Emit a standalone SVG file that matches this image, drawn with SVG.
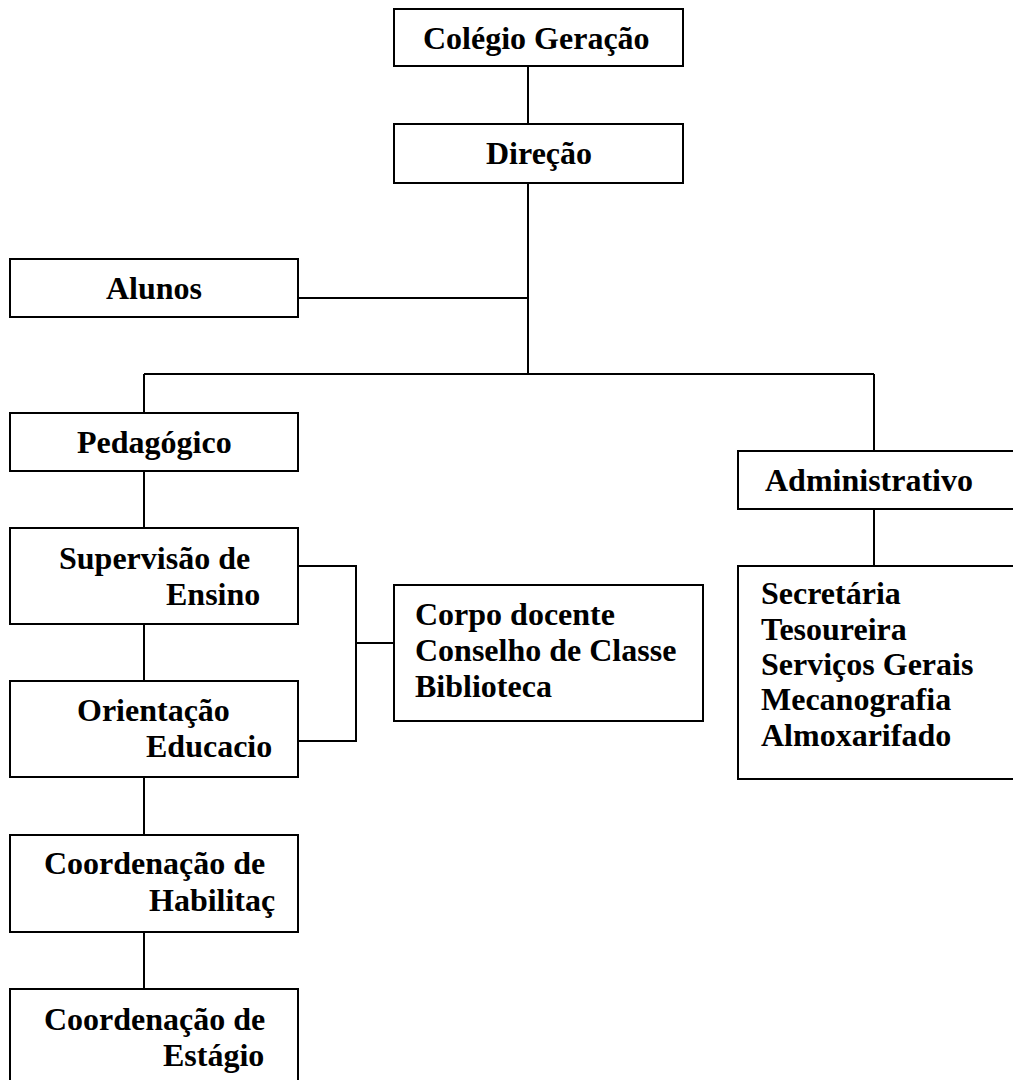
<svg xmlns="http://www.w3.org/2000/svg" width="1013" height="1080" viewBox="0 0 1013 1080">
<style>
.box{fill:#fff;stroke:#000;stroke-width:2}
.ln{fill:none;stroke:#000;stroke-width:2}
text{font-family:"Liberation Serif","Times New Roman",serif;font-weight:bold;font-size:32px;fill:#000}
</style>
<rect width="1013" height="1080" fill="#fff"/>
<g id="connectors">
<line class="ln" x1="528" y1="66" x2="528" y2="124"/>
<line class="ln" x1="528" y1="183" x2="528" y2="374"/>
<line class="ln" x1="298" y1="298" x2="528" y2="298"/>
<line class="ln" x1="144" y1="374" x2="874" y2="374"/>
<line class="ln" x1="144" y1="374" x2="144" y2="413"/>
<line class="ln" x1="874" y1="374" x2="874" y2="451"/>
<line class="ln" x1="874" y1="509" x2="874" y2="566"/>
<line class="ln" x1="144" y1="471" x2="144" y2="528"/>
<line class="ln" x1="144" y1="624" x2="144" y2="681"/>
<line class="ln" x1="144" y1="777" x2="144" y2="835"/>
<line class="ln" x1="144" y1="932" x2="144" y2="989"/>
<polyline class="ln" points="298,566 356,566 356,741 298,741"/>
<line class="ln" x1="356" y1="643" x2="394" y2="643"/>
</g>
<g id="colegio"><rect class="box" x="394" y="9" width="289" height="57"/><text x="423" y="49">Colégio Geração</text></g>
<g id="direcao"><rect class="box" x="394" y="124" width="289" height="59"/><text x="486" y="164">Direção</text></g>
<g id="alunos"><rect class="box" x="10" y="259" width="288" height="58"/><text x="106" y="299">Alunos</text></g>
<g id="pedagogico"><rect class="box" x="10" y="413" width="288" height="58"/><text x="77" y="453">Pedagógico</text></g>
<g id="administrativo"><rect class="box" x="738" y="451" width="280" height="58"/><text x="765" y="491">Administrativo</text></g>
<g id="supervisao"><rect class="box" x="10" y="528" width="288" height="96"/><text x="59" y="569">Supervisão de</text><text x="166" y="605">Ensino</text></g>
<g id="corpo"><rect class="box" x="394" y="585" width="309" height="136"/><text x="415" y="625">Corpo docente</text><text x="415" y="661">Conselho de Classe</text><text x="415" y="697">Biblioteca</text></g>
<g id="secretaria"><rect class="box" x="738" y="566" width="280" height="213"/><text x="761" y="604">Secretária</text><text x="761" y="640">Tesoureira</text><text x="761" y="675">Serviços Gerais</text><text x="761" y="710">Mecanografia</text><text x="761" y="746">Almoxarifado</text></g>
<g id="orientacao"><rect class="box" x="10" y="681" width="288" height="96"/><text x="77" y="721">Orientação</text><text x="146" y="757">Educacio</text></g>
<g id="habilitacao"><rect class="box" x="10" y="835" width="288" height="97"/><text x="44" y="874">Coordenação de</text><text x="149" y="911">Habilitaç</text></g>
<g id="estagio"><rect class="box" x="10" y="989" width="288" height="100"/><text x="44" y="1030">Coordenação de</text><text x="163" y="1066">Estágio</text></g>
</svg>
